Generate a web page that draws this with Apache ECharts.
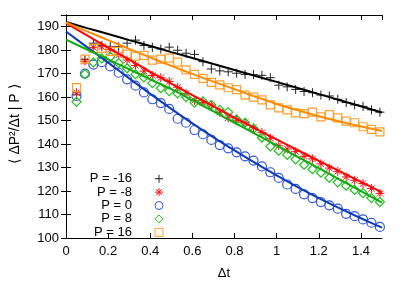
<!DOCTYPE html>
<html><head><meta charset="utf-8">
<script src="https://cdn.jsdelivr.net/npm/echarts@6/dist/echarts.min.js"></script>
<style>html,body{margin:0;padding:0;background:#fff}#c{width:407px;height:285px}</style>
</head><body><div id="c"></div>
<script>
// sample times (Δt) of the measured points
const dt = [0.05,0.09,0.13,0.17,0.21,0.25,0.29,0.33,0.37,0.41,0.45,0.49,0.53,0.57,0.61,0.65,0.69,0.73,0.77,0.81,0.85,0.89,0.93,0.97,1.01,1.05,1.09,1.13,1.17,1.21,1.25,1.29,1.33,1.37,1.41,1.45,1.49];
const pm16 = [161,176,183,182,181.5,181.5,183,184.3,182,181.2,180.5,181.3,180,178.7,178.2,175.1,172,171.2,170.8,170.2,169.7,169.6,169.3,168.3,165.1,164.4,163.3,162.4,161.9,160.9,160.5,159.1,157.7,156.7,156.1,154.6,153.6];
const pm8 = [161.9,175.3,181.2,181.5,180.3,178,175.8,173.5,171.1,169.2,168.3,166.7,164.2,161.6,158.6,157.7,156.7,153.6,151.2,150.2,149.1,147,144.9,142.5,139.3,137.9,136.8,134.8,133.7,131.6,129.8,128.4,126,124.6,123.2,121.1,119];
const p0 = [160.5,170,173.9,174.9,173.1,170.4,167.6,164.9,162,159.1,157.5,155,150.8,149.1,146,144.2,141.8,139.6,138.2,136.5,134.8,133,130.5,128,125.6,122.8,120.9,118.6,117,115.3,113.9,112.5,110.3,109.3,107.9,106.5,104.7];
const p8 = [158,169.8,174.8,176.5,177.2,174.5,172.3,169.8,168.4,166,163.8,162.6,161.6,160,157.7,158.2,156.7,154.6,153.6,150.5,149.1,146.6,142.8,139,137.2,135.4,133.5,131.2,129.3,127.8,125.6,123.7,122.3,120.5,119.1,117,115.3];
const p16 = [164.1,176.2,180.8,180.8,179.5,179.5,178.3,177.5,177.8,175.8,176.2,176.6,174.9,171.6,169.7,168,166.3,165.2,164,163.2,160.9,160,158.8,156.7,155.4,154.6,153.3,153,153.6,151.6,152.6,151.2,149.8,149.1,147.4,146.3,145.2];
// fitted curves
const fitT = [0,0.1,0.2,0.3,0.4,0.5,0.6,0.7,0.8,0.9,1.0,1.1,1.2,1.3,1.4,1.5];
const fitM16 = [192,189.4,186.9,184.3,181.8,179.2,176.7,174.1,171.6,169,166.5,163.9,161.3,158.7,156.1,153.5];
const fitM8 = [191.5,186.3,181.1,176,170.8,165.8,160.9,156.1,151.3,146.6,142,137.4,132.9,128.4,123.9,119.4];
const fit0 = [188,181.3,174.7,168,161.4,155,148.8,142.9,137.3,131.9,126.7,121.7,117,112.6,108.4,104.4];
const fit8 = [184.5,180.3,176.1,171.9,167.6,163.4,158.7,153.9,149.1,144.3,139.5,134.6,129.8,124.9,120,115.1];
const fit16 = [191.8,188,184.3,180.6,176.9,173.3,169.9,166.6,163.4,160.2,157.1,154.4,151.9,149.6,147.5,145.6];
const names = ['P = -16','P = -8','P = 0','P = 8','P = 16'];
const xTicks = [0,1.5,0.2];
const yTicks = [100,195,10];
const yTitle = '⟨ ΔP²/Δt | P ⟩';

const FONT = 'Liberation Sans, Arial, sans-serif';
const pts = [pm16,pm8,p0,p8,p16];
const fits = [fitM16,fitM8,fit0,fit8,fit16];
const mColors = ['#222222','#ff1010','#3355d0','#22bb22','#ffa030'];
const lColors = ['#000000','#ff0000','#0b3bb5','#11aa11','#ff8c00'];
const symbols = ['path://M0 5H10M5 0V10','path://M0 5H10M5 0V10M1.5 1.5L8.5 8.5M1.5 8.5L8.5 1.5','circle','diamond','rect'];
const sizes = [9,9,9,9,8];
const widths = [1,1,1.2,1.2,1.2];
const zip = (a,b)=>a.map((v,i)=>[v,b[i]]);

const series = [];
pts.forEach((arr,i)=>{
  series.push({
    name: names[i], type:'scatter', data: zip(dt,arr),
    symbol: symbols[i], symbolSize: sizes[i], z: 2,
    itemStyle: {color:'rgba(0,0,0,0)', borderColor: mColors[i], borderWidth: widths[i], opacity:1}
  });
});
fits.forEach((arr,i)=>{
  series.push({
    name: 'fit'+i, type:'line', data: zip(fitT,arr), showSymbol:false, smooth:0.3,
    lineStyle:{color:lColors[i], width:2}, z: 3, silent:true
  });
});

const axLine = {lineStyle:{color:'#000',width:1}};
const tick = {inside:true, length:5, lineStyle:{color:'#000'}};
const lbl = {color:'#000', fontSize:13, fontFamily:FONT, margin:7, showMaxLabel:false};
const option = {
  animation:false,
  grid:{left:66,right:25,top:15,bottom:43},
  graphic:[{
    type:'text', x:15, y:124, rotation:Math.PI/2,
    style:{text:yTitle, align:'center', verticalAlign:'middle', fontSize:14, fontFamily:FONT, fill:'#000'}
  }],
  legend:{
    data: names, orient:'vertical', left:82, top:167, align:'right',
    itemWidth:8, itemHeight:8, itemGap:0, selectedMode:false,
    itemStyle:{borderWidth:1},
    textStyle:{fontSize:13, fontFamily:FONT, color:'#000', width:45, align:'right', lineHeight:13.4, padding:[0,18,0,0]}
  },
  xAxis:[
    {type:'value', min:xTicks[0], max:xTicks[1], interval:xTicks[2], position:'bottom',
     name:'Δt', nameLocation:'middle', nameGap:29, nameTextStyle:{fontSize:13,fontFamily:FONT,color:'#000'},
     axisLine:axLine, axisTick:tick, axisLabel:lbl, splitLine:{show:false}},
    {type:'value', min:xTicks[0], max:xTicks[1], interval:xTicks[2], position:'top',
     axisLine:axLine, axisTick:tick, axisLabel:{show:false}, splitLine:{show:false}}
  ],
  yAxis:[
    {type:'value', min:yTicks[0], max:yTicks[1], interval:yTicks[2], position:'left',
     axisLine:axLine, axisTick:tick, axisLabel:lbl, splitLine:{show:false}},
    {type:'value', min:yTicks[0], max:yTicks[1], interval:yTicks[2], position:'right',
     axisLine:axLine, axisTick:tick, axisLabel:{show:false}, splitLine:{show:false}}
  ],
  series: series
};
const chart = echarts.init(document.getElementById('c'), null, {renderer:'canvas'});
chart.setOption(option);
</script></body></html>
